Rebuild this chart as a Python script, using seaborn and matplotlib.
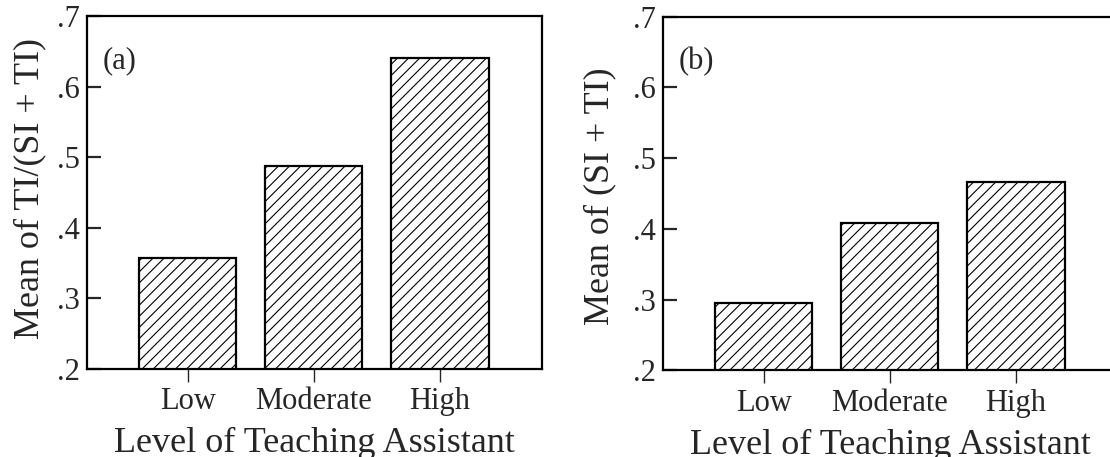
import matplotlib
matplotlib.use("Agg")
import matplotlib.pyplot as plt
import seaborn as sns

# Data
levels = ["Low", "Moderate", "High"]
ti_share = [0.357, 0.488, 0.641]        # Mean of TI/(SI + TI)
si_ti_total = [0.295, 0.408, 0.467]     # Mean of (SI + TI)
ytick_vals = [0.2, 0.3, 0.4, 0.5, 0.6, 0.7]
ytick_text = [".2", ".3", ".4", ".5", ".6", ".7"]
panel_tags = ["(a)", "(b)"]
ylabels = ["Mean of TI/(SI + TI)", "Mean of (SI + TI)"]
xlabel = "Level of Teaching Assistant"

sns.set_style("ticks")
plt.rcParams["font.family"] = ["Liberation Serif", "DejaVu Serif"]
plt.rcParams["hatch.linewidth"] = 0.8
plt.rcParams["hatch.color"] = "#222222"

fig = plt.figure(figsize=(11.10, 4.57), dpi=100)
ax_a = fig.add_axes([0.0784, 0.1926, 0.4100, 0.7714])
ax_b = fig.add_axes([0.5973, 0.1893, 0.4100, 0.7742])

panels = zip([ax_a, ax_b], [ti_share, si_ti_total], panel_tags, ylabels,
             [8, 12], [0.512, 0.493])
for ax, vals, tag, ylab, ypad, ypos in panels:
    sns.barplot(x=levels, y=vals, ax=ax, color="white", edgecolor="black",
                linewidth=1.6, hatch="///", width=0.77, saturation=1)
    ax.set_ylim(0.2, 0.7)
    ax.set_xlim(-0.80, 2.81)
    ax.set_yticks(ytick_vals)
    ax.set_yticklabels(ytick_text, fontsize=22)
    ax.set_xticks(range(len(levels)))
    ax.set_xticklabels(levels, fontsize=22)
    ax.tick_params(axis="y", direction="in", length=10, width=1.6, pad=5)
    ax.tick_params(axis="x", direction="out", length=9, width=1.0, pad=4)
    ax.set_xlabel(xlabel, fontsize=26, labelpad=8)
    ax.set_ylabel(ylab, fontsize=26, labelpad=ypad)
    ax.yaxis.label.set_y(ypos)
    for sp in ax.spines.values():
        sp.set_visible(True)
        sp.set_linewidth(1.6)
        sp.set_color("black")
    ax.text(0.035, 0.915, tag, transform=ax.transAxes, fontsize=22,
            ha="left", va="top")

fig.savefig("out.png", dpi=100)
